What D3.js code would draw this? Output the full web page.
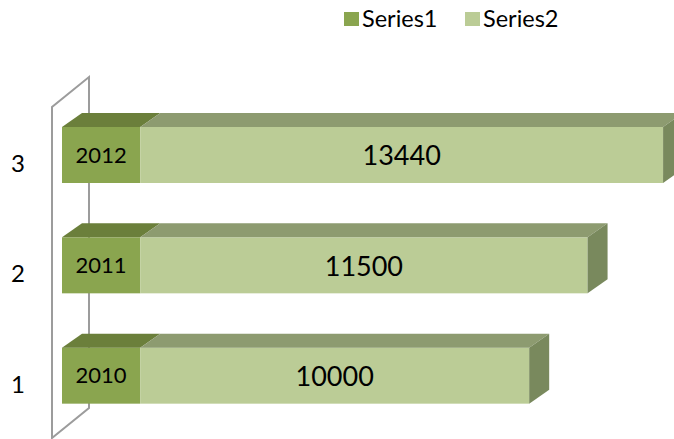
<!DOCTYPE html>
<html>
<head>
<meta charset="utf-8">
<script src="https://cdn.jsdelivr.net/npm/d3@7"></script>
<style>
  body { margin: 0; background: #fff; }
  svg text { font-family: Lato, "Open Sans", sans-serif; fill: #000; }
</style>
</head>
<body>
<div id="chart"></div>
<script>
// chart data
var categories = ["1", "2", "3"];
var series1 = [2010, 2011, 2012];
var series2 = [10000, 11500, 13440];
var seriesNames = ["Series1", "Series2"];

var svgWidth = 674;
var svgHeight = 439;

// 3d look
var depthX = 20, depthY = -14;      // bar depth
var wallX = 37, wallY = -30;        // side wall depth
var barH = 56;

var colors = {
  s1Front: "#8aa54f", s1Top: "#6b7f3b",
  s2Front: "#bbcc96", s2Top: "#8d9b70", s2Side: "#79895d"
};

var svg = d3.select("#chart")
  .append("svg")
  .attr("width", svgWidth)
  .attr("height", svgHeight);

var x = d3.scaleLinear()
  .domain([0, 16000])
  .range([62, 62 + 16000 * 0.0389]);

var y = d3.scaleBand()
  .domain(categories.slice().reverse())
  .range([107, 438]);

var data = categories.map(function(c, i) {
  return { cat: c, a: series1[i], b: series2[i] };
});

// side wall
var y0 = y.range()[0], y1 = y.range()[1], wx = 52;
svg.append("path")
  .attr("d", `M${wx},${y1} L${wx},${y0} L${wx + wallX},${y0 + wallY} L${wx + wallX},${y1 + wallY} Z`)
  .attr("fill", "none")
  .attr("stroke", "#9c9c9c")
  .attr("stroke-width", 2);

function topFace(x0, x1, yt) {
  return `M${x0},${yt} L${x0 + depthX},${yt + depthY} L${x1 + depthX},${yt + depthY} L${x1},${yt} Z`;
}

var bars = svg.selectAll(".bar")
  .data(data)
  .enter()
  .append("g")
  .attr("class", "bar");

bars.each(function(d) {
  var g = d3.select(this);
  var yt = y(d.cat) + 20;
  var xa0 = x(0), xa1 = x(d.a), xb1 = x(d.a + d.b);

  g.append("rect")
    .attr("x", xa0).attr("y", yt)
    .attr("width", xa1 - xa0).attr("height", barH)
    .attr("fill", colors.s1Front);
  g.append("path").attr("d", topFace(xa0, xa1, yt)).attr("fill", colors.s1Top);

  g.append("rect")
    .attr("x", xa1).attr("y", yt)
    .attr("width", xb1 - xa1).attr("height", barH)
    .attr("fill", colors.s2Front);
  g.append("path").attr("d", topFace(xa1, xb1, yt)).attr("fill", colors.s2Top);
  g.append("path")
    .attr("d", `M${xb1},${yt} L${xb1 + depthX},${yt + depthY} L${xb1 + depthX},${yt + barH + depthY} L${xb1},${yt + barH} Z`)
    .attr("fill", colors.s2Side);

  g.append("text")
    .attr("x", (xa0 + xa1) / 2)
    .attr("y", yt + barH / 2)
    .attr("dy", "0.35em")
    .attr("text-anchor", "middle")
    .attr("font-size", 22)
    .text(d.a);

  g.append("text")
    .attr("x", (xa1 + xb1) / 2)
    .attr("y", yt + barH / 2)
    .attr("dy", "0.38em")
    .attr("text-anchor", "middle")
    .attr("font-size", 27)
    .text(d.b);
});

// category axis
var yAxis = svg.append("g")
  .attr("transform", "translate(25, 2)")
  .call(d3.axisLeft(y).tickSize(0).tickPadding(0));
yAxis.select(".domain").remove();
yAxis.selectAll("text")
  .attr("font-size", 24)
  .style("font-family", "Lato, 'Open Sans', sans-serif");

// legend
var legend = svg.append("g").attr("transform", "translate(344, 12)");
var legendX = [0, 121];
seriesNames.forEach(function(name, i) {
  var item = legend.append("g").attr("transform", `translate(${legendX[i]}, 0)`);
  item.append("rect")
    .attr("width", 15).attr("height", 14)
    .attr("fill", i === 0 ? colors.s1Front : colors.s2Front);
  item.append("text")
    .attr("x", 18).attr("y", 7)
    .attr("dy", "0.36em")
    .attr("font-size", 23.5)
    .text(name);
});
</script>
</body>
</html>
